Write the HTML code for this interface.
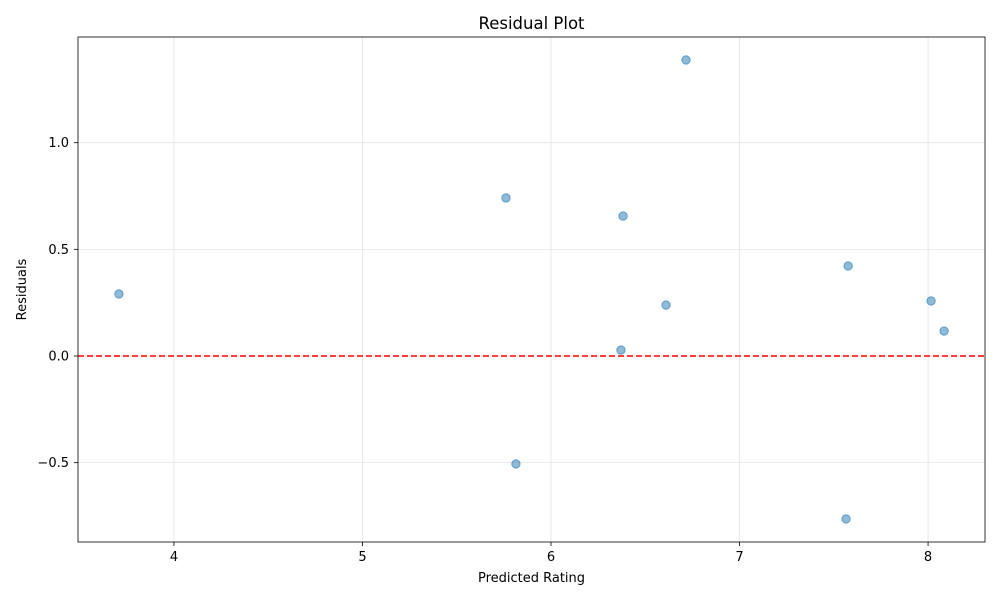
<!DOCTYPE html>
<html><head><meta charset="utf-8"><style>
body{margin:0;background:#fff;font-family:"Liberation Sans","DejaVu Sans",sans-serif;}
svg text{font-family:"DejaVu Sans","Liberation Sans",sans-serif;}
</style></head><body>
<svg id="chart" width="1000" height="600" xmlns="http://www.w3.org/2000/svg"></svg>
<script>
const predicted = [3.708, 5.761, 5.814, 6.382, 6.371, 6.610, 6.716, 7.576, 7.565, 8.016, 8.085];
const residuals = [0.291, 0.741, -0.506, 0.656, 0.028, 0.239, 1.388, 0.422, -0.764, 0.258, 0.117];
const xTicks = [4, 5, 6, 7, 8];
const yTicks = [-0.5, 0.0, 0.5, 1.0];
const yTickLabels = ["\u22120.5", "0.0", "0.5", "1.0"];

const L=78,R=985,T=37,B=542;
const xMin=3.491,xMax=8.302,yMin=-0.872,yMax=1.4955;
const sx=v=>L+(v-xMin)/(xMax-xMin)*(R-L);
const sy=v=>B-(v-yMin)/(yMax-yMin)*(B-T);
const svg=document.getElementById('chart');
const NS='http://www.w3.org/2000/svg';
function mk(tag,attrs,text){const e=document.createElementNS(NS,tag);for(const k in attrs)e.setAttribute(k,attrs[k]);if(text!==undefined)e.textContent=text;svg.appendChild(e);return e;}

xTicks.forEach(t=>{
  const g=mk('line',{x1:sx(t),x2:sx(t),y1:T,y2:B,stroke:'#e3e3e3','stroke-width':0.8});
  
  
  const tk=mk('line',{x1:sx(t),x2:sx(t),y1:B,y2:B+4,stroke:'#000','stroke-width':0.8});
  
  
  const lb=mk('text',{x:sx(t),y:B+19,'text-anchor':'middle','font-size':13},String(t));
  
  
});
yTicks.forEach((t,i)=>{
  const g=mk('line',{x1:L,x2:R,y1:sy(t),y2:sy(t),stroke:'#e3e3e3','stroke-width':0.8});
  
  
  const tk=mk('line',{x1:L-4,x2:L,y1:sy(t),y2:sy(t),stroke:'#000','stroke-width':0.8});
  
  
  const lb=mk('text',{x:L-9,y:sy(t)+4.5,'text-anchor':'end','font-size':13},yTickLabels[i]);
  
  
});
const zl=mk('line',{x1:L,x2:R,y1:sy(0),y2:sy(0),stroke:'#ff0000','stroke-width':1.6,'stroke-dasharray':'6,3'});


predicted.forEach((p,i)=>{
  const c=mk('circle',{cx:sx(p),cy:sy(residuals[i]),r:4.2,fill:'rgba(31,119,180,0.5)',stroke:'rgba(31,119,180,0.6)','stroke-width':1});
  
  
});
const fr=mk('rect',{x:L,y:T,width:R-L,height:B-T,fill:'none',stroke:'#000','stroke-width':0.8});


const ti=mk('text',{x:(L+R)/2,y:29,'text-anchor':'middle','font-size':16.5},'Residual Plot');


const xt=mk('text',{x:(L+R)/2,y:582,'text-anchor':'middle','font-size':13},'Predicted Rating');


const yt=mk('text',{x:26,y:(T+B)/2,'text-anchor':'middle','font-size':13,transform:`rotate(-90 26 ${(T+B)/2})`},'Residuals');


</script>
</body></html>
